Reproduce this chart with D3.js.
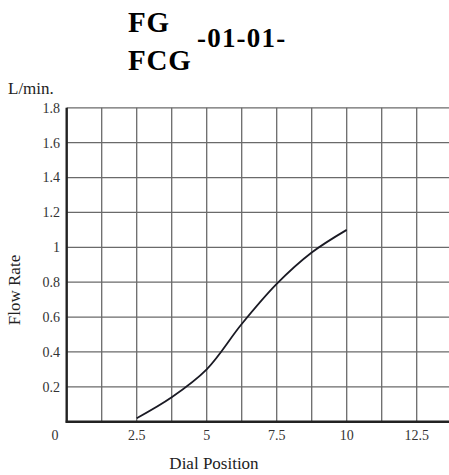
<!DOCTYPE html>
<html><head><meta charset="utf-8">
<script src="https://cdn.jsdelivr.net/npm/d3@7"></script>
<style>body{margin:0;background:#fff;overflow:hidden}svg{display:block}svg text{font-family:"Times New Roman","Liberation Serif",Times,serif}</style>
</head><body><svg id="c" width="449" height="475"></svg>
<script>
const dialPos = [2.5, 3.75, 5.0, 6.25, 7.5, 8.75, 10.0];
const flowRate = [0.02, 0.14, 0.3, 0.56, 0.79, 0.97, 1.1];
const xTicks = [2.5, 5, 7.5, 10, 12.5];
const yTicks = [0.2, 0.4, 0.6, 0.8, 1, 1.2, 1.4, 1.6, 1.8];
const xGrid = d3.range(1.25, 14, 1.25);
const yGrid = d3.range(0.2, 1.81, 0.2);

const svg = d3.select("#c");
const x = d3.scaleLinear().domain([0, 13.75]).range([66.7, 451.7]);
const y = d3.scaleLinear().domain([0, 1.8]).range([421.7, 107.8]);

// grid
svg.append("g").selectAll("line").data(xGrid).join("line")
  .attr("x1", d => x(d)).attr("x2", d => x(d)).attr("y1", y(0)).attr("y2", y(1.8))
  .attr("stroke", "#6a6a6a").attr("stroke-width", 1.3);
svg.append("g").selectAll("line").data(yGrid).join("line")
  .attr("x1", x(0)).attr("x2", 449).attr("y1", d => y(d)).attr("y2", d => y(d))
  .attr("stroke", "#6a6a6a").attr("stroke-width", 1.3);

// axes lines
svg.append("line").attr("x1", x(0)).attr("x2", x(0)).attr("y1", y(1.8)).attr("y2", y(0) + 1)
  .attr("stroke", "#222").attr("stroke-width", 2.4);
svg.append("line").attr("x1", x(0) - 1).attr("x2", 449).attr("y1", y(0)).attr("y2", y(0))
  .attr("stroke", "#222").attr("stroke-width", 2.4);

// tick labels
svg.append("g").selectAll("text").data(yTicks).join("text")
  .attr("x", 60).attr("y", d => y(d)).attr("dy", "0.35em").attr("text-anchor", "end")
  .attr("font-size", 14).attr("fill", "#333").text(d => d);
svg.append("g").selectAll("text").data(xTicks).join("text")
  .attr("x", d => x(d)).attr("y", 440).attr("text-anchor", "middle")
  .attr("font-size", 14).attr("fill", "#333").text(d => d);
svg.append("text").attr("x", 55).attr("y", 440).attr("text-anchor", "middle").attr("font-size", 14).attr("fill", "#333").text("0");

// curve
const line = d3.line().x((d, i) => x(dialPos[i])).y(d => y(d)).curve(d3.curveCatmullRom.alpha(0.5));
svg.append("path").attr("d", line(flowRate)).attr("fill", "none")
  .attr("stroke", "#1a1a24").attr("stroke-width", 1.8);

// labels
svg.append("text").attr("x", 8).attr("y", 94).attr("font-size", 17).attr("fill", "#222").text("L/min.");
svg.append("text").attr("x", 214).attr("y", 469).attr("text-anchor", "middle").attr("font-size", 17).attr("fill", "#222").text("Dial Position");
svg.append("text").attr("transform", "translate(20,290) rotate(-90)").attr("text-anchor", "middle").attr("font-size", 17).attr("fill", "#222").text("Flow Rate");

// title
const t = svg.append("g").attr("font-weight", "bold").attr("fill", "#000");
t.append("text").attr("x", 128).attr("y", 32).attr("font-size", 29).attr("letter-spacing", 0.8).text("FG");
t.append("text").attr("x", 128).attr("y", 70).attr("font-size", 29).attr("letter-spacing", 0.8).text("FCG");
t.append("text").attr("x", 197).attr("y", 47).attr("font-size", 27).attr("letter-spacing", 1.2).text("-01-01-");
</script></body></html>
